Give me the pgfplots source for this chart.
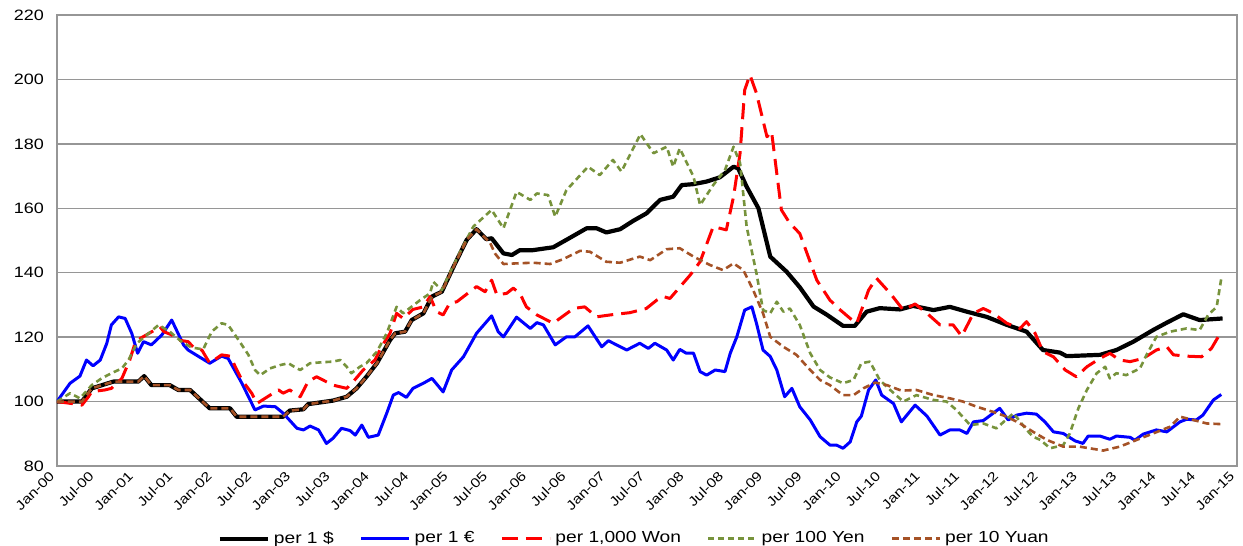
\documentclass[border=0pt]{standalone}
\usepackage{pgfplots}
\pgfplotsset{compat=1.18}
\usepackage{fontspec}
\setmainfont{Liberation Sans}[FakeStretch=1.2]
\usetikzlibrary{calc}
\definecolor{olivegreen}{RGB}{119,147,60}
\definecolor{yuanbrown}{RGB}{165,82,38}
\definecolor{gridgray}{RGB}{150,150,150}
\begin{document}
\begin{tikzpicture}
\begin{axis}[
  scale only axis, width=590pt, height=225.5pt,
  xmin=0, xmax=180, ymin=80, ymax=220,
  ytick={80,100,...,220},
  xtick={0,6,...,180},
  xticklabels={Jan-00,Jul-00,Jan-01,Jul-01,Jan-02,Jul-02,Jan-03,Jul-03,Jan-04,Jul-04,Jan-05,Jul-05,Jan-06,Jul-06,Jan-07,Jul-07,Jan-08,Jul-08,Jan-09,Jul-09,Jan-10,Jul-10,Jan-11,Jul-11,Jan-12,Jul-12,Jan-13,Jul-13,Jan-14,Jul-14,Jan-15},
  ymajorgrids, grid style={gridgray, line width=0.7pt},
  axis line style={gridgray, line width=0.7pt},
  major tick length=0pt,
  /pgf/number format/assume math mode=true,
  yticklabel style={font=\fontsize{7.5}{9}\selectfont, xshift=-3pt},
  xticklabel style={font=\fontsize{6.6}{8}\selectfont, rotate=45, anchor=east, xshift=-1pt, yshift=-1pt},
  legend columns=5,
  legend style={draw=none, fill=none, at={(0.49,-0.135)}, anchor=north, font=\fontsize{8}{10}\selectfont,
    /tikz/every even column/.append style={column sep=11pt}, inner sep=0pt},
  legend image code/.code={\draw[#1] (0pt,0pt) -- (24pt,0pt);},
  every axis plot/.append style={line join=round},
]
\coordinate (bl) at (rel axis cs:0,0);
\coordinate (tr) at (rel axis cs:1,1);
% per 1 $
\addplot[black, line width=2.1pt] coordinates {
(0,100)(3.8,100)(5.3,104.1)(8.6,106.2)(12.4,106.2)(13.3,107.9)(14.4,105.1)(17.2,105.1)(18.5,103.6)(20.3,103.6)
(23.3,97.9)(26.4,97.9)(27.4,95.3)(34.5,95.3)(35.5,97.2)(37.6,97.6)(38.3,99.2)(42.1,100.3)(44.2,101.5)(45.7,104.1)
(47.2,107.7)(48.8,111.9)(50.8,119.1)(51.6,121.2)(53.1,121.7)(54.1,125.3)(55.9,127.4)(57.2,132.6)(58.7,134.1)(60.5,141.9)
(62.5,150.2)(64.0,153.5)(65.5,150.4)(66.3,150.7)(68.1,146.0)(69.4,145.5)(70.6,147.0)(72.6,147.0)(75.7,147.9)(77.7,150.2)
(80.8,153.8)(82.3,153.8)(83.8,152.5)(85.9,153.5)(87.9,156.1)(89.9,158.4)(92.0,162.6)(94.0,163.6)(95.3,167.2)(97.1,167.5)
(99.1,168.3)(101.1,169.6)(103.2,172.9)(103.9,172.4)(105.2,166.7)(107.0,160.0)(108.8,145.0)(111.3,140.3)(113.3,135.5)(115.4,129.5)
(117.4,127.0)(119.9,123.5)(121.7,123.5)(123.5,127.9)(125.5,129.0)(128.6,128.6)(130.6,129.7)(133.7,128.4)(136.2,129.4)(138.8,127.9)
(141.8,126.3)(144.9,123.8)(147.9,121.7)(150.4,116.0)(153.0,115.2)(154.0,114.1)(159.1,114.5)(161.6,116.0)(164.2,118.6)(167.2,122.2)
(169.3,124.5)(171.8,127.1)(174.3,125.3)(177.8,125.8)};
\addlegendentry{per 1 \$}
% per 1 euro
\addplot[blue, line width=1.5pt] coordinates {
(0,100)(2,105.7)(3.5,107.9)(4.5,112.9)(5.5,111.1)(6.6,112.9)(7.6,118.1)(8.3,123.8)(9.4,126.3)(10.4,125.8)
(11.4,121.2)(12.3,115.0)(13.2,118.6)(14.4,117.6)(16.0,120.7)(17.5,125.3)(19.3,117.6)(20.0,116.0)(21.6,114.0)(23.3,111.9)
(25.1,114.1)(26.1,113.4)(28.2,105.7)(30.2,97.4)(31.5,98.6)(33.3,98.4)(34.5,96.4)(36.6,91.7)(37.6,91.2)(38.6,92.4)
(39.9,91.2)(41.1,87.0)(42.1,88.6)(43.4,91.7)(44.7,91.0)(45.5,89.6)(46.5,92.7)(47.5,88.9)(49.0,89.6)(50.3,96.4)
(51.3,102.0)(52.1,102.8)(53.3,101.3)(54.3,104.1)(55.9,105.7)(57.2,107.2)(58.9,103.0)(60.2,109.8)(62.0,113.9)(64.0,121.2)
(66.3,126.6)(67.3,121.7)(68.1,120.1)(70.1,126.2)(72.2,122.7)(73.2,124.5)(74.2,123.8)(76.0,117.6)(77.7,120.1)(79.0,120.1)
(81.0,123.5)(83.1,117.0)(84.1,118.9)(86.9,116.0)(88.9,118.1)(90.2,116.5)(91.2,118.1)(93.0,116.0)(94.0,112.9)(95.0,116.2)
(96.0,115.0)(97.1,115.0)(98.1,109.3)(99.1,108.2)(100.4,109.8)(101.9,109.3)(102.7,115.0)(103.7,120.1)(104.9,128.4)(106.0,129.4)
(106.7,124.3)(107.7,116.0)(108.8,114.0)(109.8,109.8)(111.0,101.5)(112.1,104.1)(113.3,98.4)(114.9,94.3)(116.4,89.1)(117.9,86.5)
(118.9,86.5)(119.9,85.5)(121.0,87.5)(122.0,93.7)(122.7,95.5)(123.8,103.6)(124.9,106.7)(125.8,102.0)(127.6,99.4)(128.8,93.7)
(130.9,98.9)(132.7,95.5)(134.7,89.6)(136.2,91.2)(137.7,91.2)(138.8,90.1)(139.8,93.7)(141.3,94.1)(143.8,97.9)(145.1,94.3)
(146.4,95.8)(147.9,96.4)(149.4,96.1)(150.7,93.7)(152.0,90.6)(153.5,90.1)(155.3,87.8)(156.5,87.0)(157.3,89.3)(159.1,89.3)
(160.6,88.3)(161.6,89.3)(163.7,88.9)(164.4,88.0)(165.7,89.9)(167.7,91.2)(169.3,90.6)(171.3,93.7)(172.3,94.5)(173.8,94.3)
(174.8,95.8)(176.4,100.5)(177.6,102.2)};
\addlegendentry{per 1 €}
% per 1,000 Won
\addplot[red, line width=1.5pt, dash pattern=on 8pt off 4pt] coordinates {
(0,100)(2.2,99.4)(3.8,98.9)(4.8,101.5)(5.3,103.1)(7.3,103.6)(8.3,104.1)(9.9,107.2)(11.1,112.9)(11.9,118.1)
(12.7,119.6)(14.9,122.2)(15.7,123.2)(16.3,121.7)(17.5,120.7)(18.5,119.1)(20.0,118.6)(21.0,116.5)(22.1,116.0)(23.3,111.9)
(25.1,114.5)(26.4,114.1)(28.2,106.7)(29.7,102.6)(30.5,99.4)(32.5,102.0)(33.8,103.6)(34.5,102.6)(35.5,103.6)(37.1,101.5)
(38.3,106.2)(39.6,107.7)(42.1,105.1)(44.2,104.1)(45.2,106.2)(46.7,109.8)(48.5,112.9)(49.5,117.0)(50.8,121.2)(51.8,127.4)
(52.8,125.8)(54.3,128.6)(55.9,129.4)(56.9,132.6)(57.9,127.9)(58.9,126.9)(59.9,130.5)(61.0,131.0)(64.0,135.7)(65.3,134.1)
(66.3,137.7)(67.1,133.1)(68.6,133.6)(69.6,135.2)(70.6,133.6)(71.6,129.4)(73.2,126.9)(75.7,124.3)(76.7,125.8)(78.8,128.9)
(80.5,129.4)(82.3,126.3)(84.4,126.9)(87.4,127.6)(89.9,128.9)(91.5,131.5)(92.5,132.6)(93.5,132.0)(96.6,139.3)(98.1,143.4)
(100.1,154.3)(102.1,153.3)(103.2,163.6)(104.2,177.1)(104.9,196.7)(105.7,201.4)(106.7,195.7)(108.3,182.2)(109.0,183.8)(110.5,159.5)
(111.8,155.3)(113.3,152.2)(115.9,137.7)(117.9,131.5)(119.5,128.4)(121.0,125.8)(122.0,124.3)(123.8,134.6)(125.0,138.3)(127.1,133.6)
(129.1,128.4)(130.9,130.3)(132.7,127.4)(134.7,123.8)(136.7,123.8)(138.0,120.3)(139.8,127.4)(141.3,128.9)(142.8,127.4)(144.9,124.3)
(146.9,122.7)(147.9,124.8)(149.2,121.2)(150.4,115.5)(152.0,113.9)(153.8,109.8)(155.5,107.7)(157.1,110.8)(159.1,113.4)(160.6,115.0)
(162.1,112.9)(163.7,112.4)(165.7,113.4)(167.7,116.0)(169.3,117.0)(170.3,114.5)(172.3,114.1)(174.6,113.9)(176.1,116.5)(177.6,121.7)};
\addlegendentry{per 1,000 Won}
% per 100 Yen
\addplot[olivegreen, line width=1.3pt, dash pattern=on 3pt off 2pt] coordinates {
(0,100)(2,102.6)(3.5,101.0)(5.3,105.1)(6.8,107.2)(8.3,108.8)(9.9,110.3)(10.9,112.9)(12.2,118.1)(13.7,120.7)
(15.5,123.8)(17.2,121.7)(19.0,118.6)(20.5,116.8)(22.3,116.2)(23.6,121.7)(25.1,124.3)(26.1,123.8)(27.7,119.1)(29.2,114.5)
(30.2,109.8)(31.0,108.2)(32.5,110.3)(34.0,111.3)(35.3,111.9)(36.2,110.8)(37.1,109.8)(38.6,111.9)(40.4,112.2)(42.1,112.4)
(43.2,112.9)(44.2,110.8)(44.9,108.8)(46.2,110.8)(47.2,111.9)(48.8,115.5)(50.3,121.2)(51.8,129.4)(52.8,127.4)(53.8,129.0)
(55.4,131.5)(56.9,133.6)(57.4,137.2)(58.7,134.6)(59.9,139.8)(61.5,146.5)(63.5,154.3)(66.3,159.5)(68.1,153.8)(70.1,165.1)
(72.2,162.6)(73.2,164.6)(74.9,164.1)(76.0,157.4)(77.7,165.6)(81.0,172.9)(82.8,170.3)(84.8,175.0)(86.1,171.4)(89.0,183.0)
(91.0,177.1)(93.0,179.1)(94.0,172.9)(95.0,178.6)(97.1,169.8)(98.1,161.0)(100.1,167.2)(101.9,171.9)(103.2,179.1)(104.2,174.0)
(105.2,154.3)(106.7,139.8)(107.7,128.4)(108.8,127.4)(109.8,131.0)(110.8,127.9)(111.8,128.9)(113.3,123.8)(114.9,115.0)(116.4,109.8)
(117.9,107.5)(119.9,105.7)(121.5,106.7)(122.7,111.9)(124.0,112.4)(125.5,106.7)(127.1,103.6)(129.1,100.0)(131.1,102.0)(133.7,100.5)
(135.7,100.0)(137.2,97.4)(139.3,92.7)(141.3,93.2)(143.3,91.7)(145.9,96.4)(147.9,91.2)(148.9,89.1)(150.0,88.1)(151.5,85.5)
(153.5,86.5)(154.5,90.1)(155.8,97.9)(157.1,103.6)(158.6,108.8)(159.9,110.8)(160.6,107.2)(161.6,108.8)(163.1,108.2)(165.2,110.3)
(166.2,114.5)(167.7,120.1)(169.8,121.7)(172.3,122.7)(174.3,122.2)(175.6,126.9)(176.9,129.4)(177.6,138.2)};
\addlegendentry{per 100 Yen}
% per 10 Yuan
\addplot[yuanbrown, line width=1.3pt, dash pattern=on 3.5pt off 2pt] coordinates {
(0,100)(3.8,100)(5.3,104.1)(8.6,106.2)(12.4,106.2)(13.3,107.9)(14.4,105.1)(17.2,105.1)(18.5,103.6)(20.3,103.6)
(23.3,97.9)(26.4,97.9)(27.4,95.3)(34.5,95.3)(35.5,97.2)(37.6,97.6)(38.3,99.2)(42.1,100.3)(44.2,101.5)(45.7,104.1)
(47.2,107.7)(48.8,111.9)(50.8,119.1)(51.6,121.2)(53.1,121.7)(54.1,125.3)(55.9,127.4)(57.2,132.6)(58.7,134.1)(60.5,141.9)
(62.5,150.2)(64.0,153.5)(65.5,150.4)(66.0,149.6)(66.8,146.0)(68.1,142.7)(70.1,142.9)(72.6,143.1)(75.2,142.7)(77.2,144.2)
(79.8,146.8)(81.3,146.5)(83.8,143.4)(85.9,143.1)(88.9,145.0)(90.5,143.9)(93.0,147.3)(95.0,147.6)(97.1,145.0)(99.6,142.4)
(101.6,140.8)(103.2,142.9)(104.7,140.8)(106.2,134.6)(107.7,127.4)(108.8,120.1)(110.8,117.0)(112.8,114.5)(114.9,109.8)(116.4,106.7)
(117.9,105.1)(119.9,102.0)(121.5,102.0)(123.0,104.1)(124.8,105.9)(126.6,105.1)(128.8,103.4)(131.1,103.6)(133.7,102.0)(136.2,101.0)
(138.2,100.0)(140.3,98.4)(142.8,96.8)(144.9,95.3)(146.9,93.2)(148.9,90.6)(151.0,88.1)(153.5,86.0)(156.0,86.0)(159.6,84.8)
(162.1,86.0)(164.7,88.1)(167.2,90.1)(169.8,92.2)(171.3,95.3)(173.3,94.3)(175.4,93.2)(177.6,93.0)};
\addlegendentry{per 10 Yuan}
\end{axis}
\pgfresetboundingbox
\path[use as bounding box] ($(bl)+(-28.5pt,-40pt)$) rectangle ($(tr)+(3pt,7.5pt)$);
\end{tikzpicture}
\end{document}
